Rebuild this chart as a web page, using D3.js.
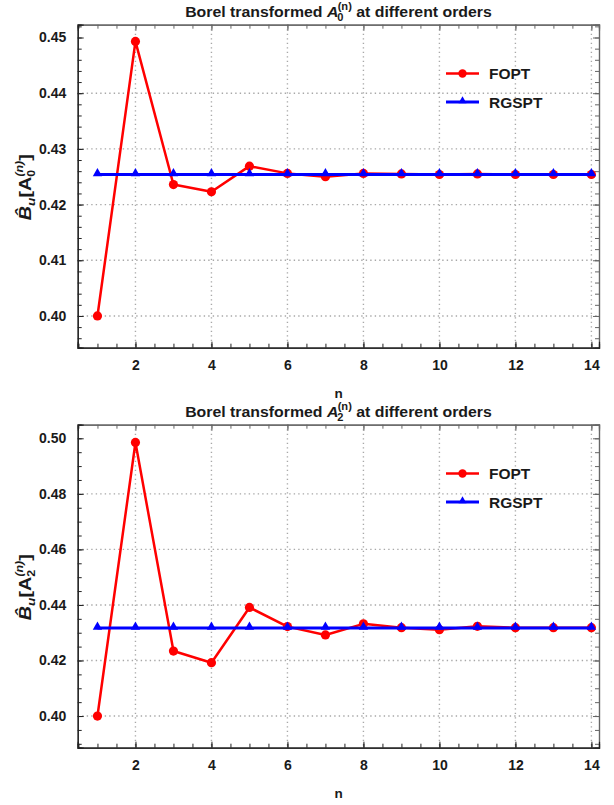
<!DOCTYPE html>
<html><head><meta charset="utf-8">
<script src="https://cdn.jsdelivr.net/npm/d3@7"></script>
<style>body{margin:0;background:#fff}svg{display:block}text{font-family:"Liberation Sans",Arial,sans-serif;font-weight:bold}</style>
</head><body><svg id="c" width="614" height="805"></svg>
<script>
const orders = [1,2,3,4,5,6,7,8,9,10,11,12,13,14];
const xTicks = [2,4,6,8,10,12,14];
// panel 1: A0
const fopt0 = [0.4000,0.4493,0.4236,0.4223,0.4269,0.4256,0.4250,0.4256,0.4255,0.4254,0.4255,0.4254,0.4254,0.4254];
const rgspt0 = [0.4254,0.4254,0.4254,0.4254,0.4254,0.4254,0.4254,0.4254,0.4254,0.4254,0.4254,0.4254,0.4254,0.4254];
const yTicks0 = [0.40,0.41,0.42,0.43,0.44,0.45];
const yGrid0 = [0.40,0.41,0.42,0.43,0.44];
// panel 2: A2
const fopt2 = [0.4000,0.4985,0.4234,0.4192,0.4391,0.4322,0.4292,0.4332,0.4318,0.4311,0.4323,0.4318,0.4318,0.4318];
const rgspt2 = [0.4317,0.4317,0.4317,0.4317,0.4317,0.4317,0.4317,0.4317,0.4317,0.4317,0.4317,0.4317,0.4317,0.4317];
const yTicks2 = [0.40,0.42,0.44,0.46,0.48,0.50];
const yGrid2 = [0.40,0.42,0.44,0.46,0.48];
const seriesNames = ["FOPT","RGSPT"];

const svg = d3.select("#c");

function fitX(sel, cx, cy, width, rotate){
  const w = sel.node().getBBox().width;
  const s = width / w;
  sel.attr("transform", `translate(${cx},${cy})` + (rotate?` rotate(${rotate})`:"") + ` scale(${s},1)`);
}

function panel(cfg){
  const L=77.7, R=599, T=cfg.top, B=cfg.top+323;
  const x = d3.scaleLinear().domain([0.48,14.2]).range([L,R]);
  const y = d3.scaleLinear().domain(cfg.ydom).range([B,T]);
  const g = svg.append("g");
  // grid
  g.selectAll(null).data(xTicks).enter().append("line")
    .attr("x1",d=>x(d)).attr("x2",d=>x(d)).attr("y1",T).attr("y2",B)
    .attr("stroke","#a8a8a8").attr("stroke-width",1.4).attr("stroke-dasharray","1.4,3.1");
  g.selectAll(null).data(cfg.ygrid).enter().append("line")
    .attr("y1",d=>y(d)).attr("y2",d=>y(d)).attr("x1",L).attr("x2",R)
    .attr("stroke","#a8a8a8").attr("stroke-width",1.4).attr("stroke-dasharray","1.4,3.1");
  const minorX = d3.range(0.5,14.21,0.5);
  const yMinor = [];
  for(let v=Math.ceil(cfg.ydom[0]/cfg.ystep)*cfg.ystep; v<=cfg.ydom[1]; v+=cfg.ystep) yMinor.push(+v.toFixed(4));
  const fmt = d3.format(".2f");
  function axisGroup(axisFn, scale, ticks, minor, transform, labels, color){
    const a = g.append("g").attr("transform",transform);
    a.call(axisFn(scale).tickValues(minor).tickSize(-4).tickFormat(""));
    const b = g.append("g").attr("transform",transform);
    b.call(axisFn(scale).tickValues(ticks).tickSize(-6).tickPadding(labels?10:0).tickFormat(labels?labels:""));
    [a,b].forEach(s=>{s.selectAll("line").attr("stroke",color).attr("stroke-width",1);
      s.select(".domain").attr("stroke",color).attr("stroke-width",1.2);
      s.selectAll("text").attr("font-size",14).attr("fill","#1a1a1a").style("font-family","'Liberation Sans',Arial,sans-serif").style("font-weight","bold");});
    return b;
  }
  axisGroup(d3.axisTop, x, xTicks, minorX, `translate(0,${T})`, null, "#666");
  axisGroup(d3.axisRight, y, cfg.yticks, yMinor, `translate(${R},0)`, null, "#666");
  const bx = axisGroup(d3.axisBottom, x, xTicks, minorX, `translate(0,${B})`, d3.format("d"), "#222");
  const ly = axisGroup(d3.axisLeft, y, cfg.yticks, yMinor, `translate(${L},0)`, fmt, "#222");
  bx.selectAll("text").attr("dy","0.85em");
  ly.selectAll("text").attr("dx","-1.5");
  // lines
  const line = d3.line().x((d,i)=>x(orders[i])).y(d=>y(d));
  g.append("path").datum(cfg.fopt).attr("d",line).attr("fill","none").attr("stroke","#ff0000").attr("stroke-width",2.5).attr("stroke-linejoin","round");
  g.selectAll(null).data(cfg.fopt).enter().append("circle")
    .attr("cx",(d,i)=>x(orders[i])).attr("cy",d=>y(d)).attr("r",4.6).attr("fill","#ff0000");
  g.append("path").datum(cfg.rgspt).attr("d",line).attr("fill","none").attr("stroke","#0000ff").attr("stroke-width",2.8);
  const tri = d3.symbol().type(d3.symbolTriangle).size(38);
  g.selectAll(null).data(cfg.rgspt).enter().append("path")
    .attr("d",tri).attr("transform",(d,i)=>`translate(${x(orders[i])},${y(d)-1})`).attr("fill","#0000ff");
  // legend
  const lg = g.append("g");
  const ly1 = T+48.8, ly2 = T+77.3;
  lg.append("line").attr("x1",446).attr("x2",479).attr("y1",ly1).attr("y2",ly1).attr("stroke","#ff0000").attr("stroke-width",2.5);
  lg.append("circle").attr("cx",462.5).attr("cy",ly1).attr("r",4.2).attr("fill","#ff0000");
  lg.append("line").attr("x1",446).attr("x2",479).attr("y1",ly2).attr("y2",ly2).attr("stroke","#0000ff").attr("stroke-width",2.8);
  lg.append("path").attr("d",d3.symbol().type(d3.symbolTriangle).size(28)).attr("transform",`translate(462.5,${ly2-1})`).attr("fill","#0000ff");
  lg.append("text").attr("x",489).attr("y",ly1+5.6).attr("font-size",15.5).attr("fill","#1a1a1a").text(seriesNames[0]);
  lg.append("text").attr("x",489).attr("y",ly2+5.6).attr("font-size",15.5).attr("fill","#1a1a1a").text(seriesNames[1]);
  // title
  const t = svg.append("text").attr("x",0).attr("y",0).attr("text-anchor","middle").attr("font-size",15).attr("fill","#1a1a1a");
  t.append("tspan").text("Borel transformed ");
  t.append("tspan").attr("font-style","italic").text("A");
  t.append("tspan").attr("font-size",10.5).attr("dy",4).attr("dx",-1).text(cfg.sub);
  t.append("tspan").attr("font-size",10.5).attr("dy",-11.5).attr("dx",-5.5).text("(n)");
  t.append("tspan").attr("dy",7.5).text(" at different orders");
  fitX(t, 338.5, T-7.4, 307);
  // x label
  svg.append("text").attr("x",338.5).attr("y",B+50).attr("text-anchor","middle").attr("font-size",13.5).attr("fill","#1a1a1a").text("n");
  // y label
  const cy = (T+B)/2;
  const yl = svg.append("text").attr("text-anchor","middle").attr("font-size",16).attr("fill","#1a1a1a");
  yl.append("tspan").attr("font-style","italic").text("B\u0302");
  yl.append("tspan").attr("font-style","italic").attr("font-size",11).attr("dy",4).text("u");
  yl.append("tspan").attr("dy",-4).text("[A");
  yl.append("tspan").attr("font-size",10).attr("dy",4).text(cfg.sub);
  yl.append("tspan").attr("font-size",10).attr("font-style","italic").attr("dy",-12).attr("dx",-5.5).text("(n)");
  yl.append("tspan").attr("dy",8).text("]");
  fitX(yl, 30.5, cy+1, 66, -90);
}
panel({top:24.7, ydom:[0.3943,0.4523], yticks:yTicks0, ygrid:yGrid0, ystep:0.002, fopt:fopt0, rgspt:rgspt0, sub:"0"});
panel({top:424.7, ydom:[0.3886,0.5049], yticks:yTicks2, ygrid:yGrid2, ystep:0.005, fopt:fopt2, rgspt:rgspt2, sub:"2"});
</script></body></html>
